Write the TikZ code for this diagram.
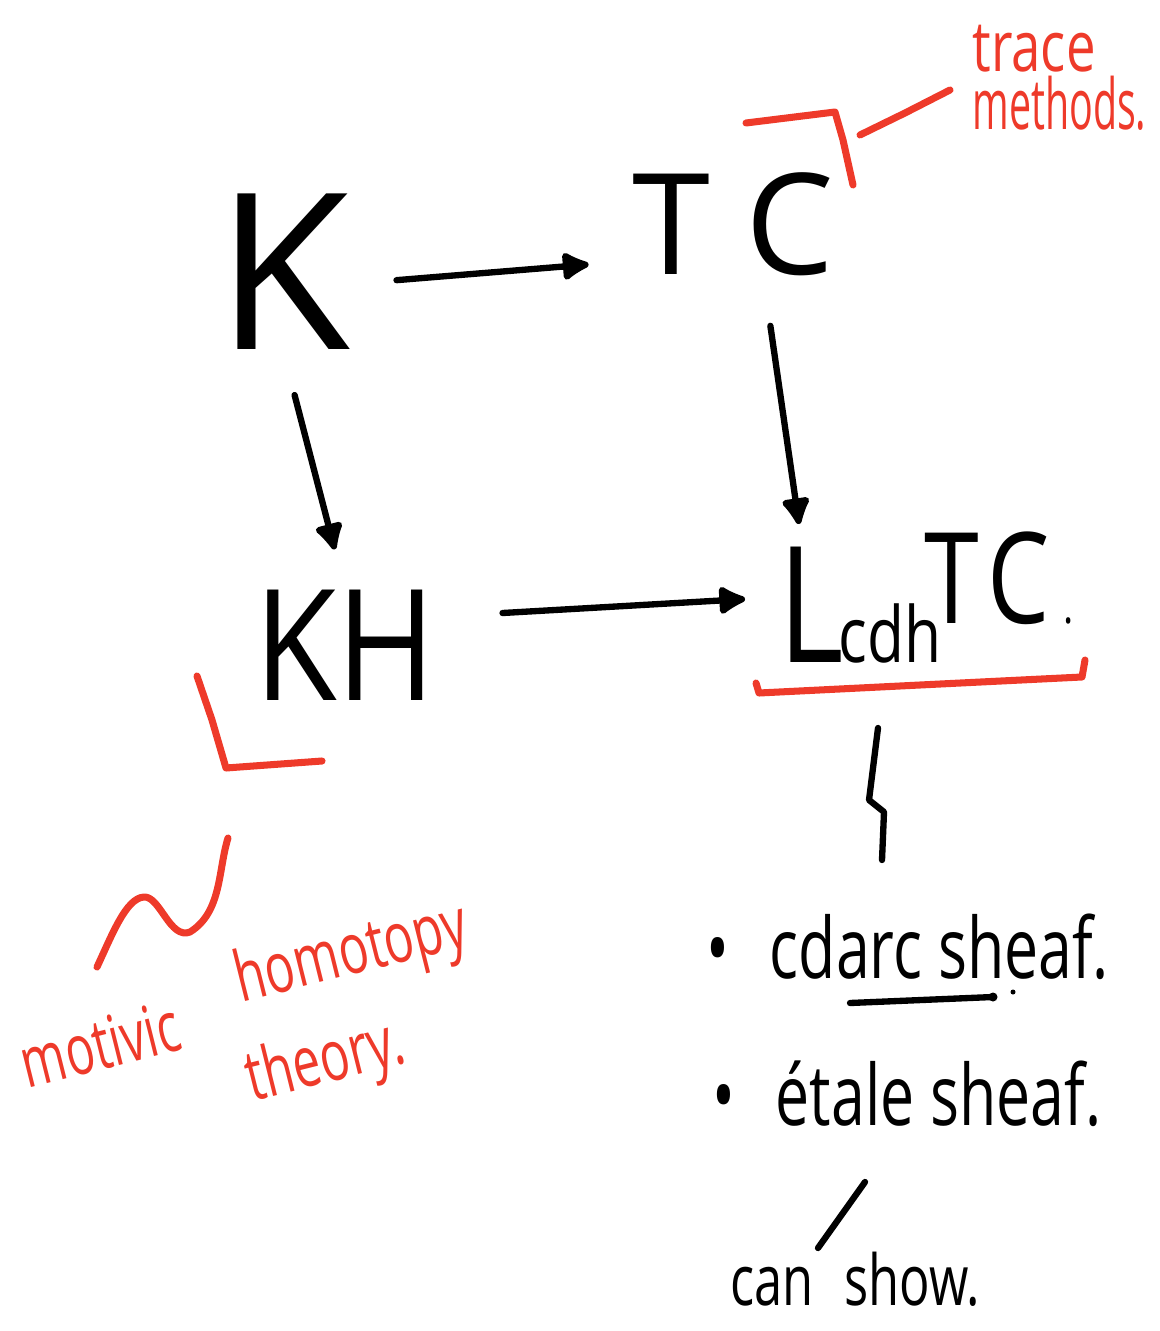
\documentclass[tikz,border=0pt]{standalone}
\usepackage{fontspec}
\setmainfont{Open Sans}
\usetikzlibrary{arrows.meta}
\definecolor{noteRed}{HTML}{EE3A2A}

\begin{document}
\begin{tikzpicture}[x=0.01cm, y=-0.01cm,
  every node/.style={inner sep=0pt},
  ink/.style={line width=1.8pt, line cap=round, line join=round},
  arr/.style={ink, -{Latex[length=0.32cm, width=0.34cm, round]}},
  redink/.style={line width=2pt, color=noteRed, line cap=round, line join=round},
  redtext/.style={text=noteRed, font=\fontsize{20}{20}\selectfont, xscale=#1},
  redtext/.default=0.75,
  itemtext/.style={font=\fontsize{24}{24}\selectfont, xscale=0.72}]
  \useasboundingbox (0,0) rectangle (1159,1331);

  % the square
  \node[font=\fontsize{62}{62}\selectfont] (K) at (283,272) {K};
  \node[font=\fontsize{40}{40}\selectfont] (TC) at (733,224) {T\hspace{10pt}C};
  \node[font=\fontsize{44}{44}\selectfont, xscale=0.87] (KH) at (345,645) {KH};
  \node[anchor=base west, font=\fontsize{46}{46}\selectfont, xscale=0.78] (LTC) at (778,662)
    {L\hspace{-2pt}{\fontsize{22}{22}\selectfont cdh}\hspace{-6pt}\raisebox{11pt}{\fontsize{36}{36}\selectfont T\hspace{3pt}C\hspace{5pt}{\fontsize{14}{14}\selectfont .}}};

  \draw[arr, shorten <=0.46cm, shorten >=0.43cm] (K.-10) -- (TC.-160);
  \draw[arr, shorten <=0.46cm, shorten >=0.41cm] (K.south) -- (KH.north);
  \draw[arr, shorten <=0.5cm, shorten >=0.07cm] (TC.-60) -- ([xshift=0.22cm]LTC.north west);
  \draw[arr, shorten <=0.66cm, shorten >=0.33cm] (KH.15) -- (LTC.west);

  % red notes
  \draw[redink] (746,123) -- (835,112) -- (843,140) -- (853,185);
  \draw[redink] (860,135) -- (905,113) -- (950,90);
  \node[redtext, anchor=base west] (trace) at (972,72) {trace};
  \node[redtext=0.56, anchor=base west] (methods) at (972,130) {methods.};

  \draw[redink] (197,676) -- (212,720) -- (226,768) -- (322,761);
  \draw[redink] (756,683) -- (759,693) -- (920,685) -- (1082,677) -- (1085,660);

  \draw[redink] (228,838) .. controls (218,870) and (222,912) .. (190,932)
    .. controls (170,940) and (160,896) .. (144,897)
    .. controls (126,898) and (112,935) .. (97,967);
  \node[rotate=14, redtext=0.68] (motivic) at (100,1044) {motivic};
  \node[rotate=14, redtext=0.7] (homotopy) at (352,956) {homotopy};
  \node[rotate=14, redtext=0.7] (theory) at (326,1064) {theory.};

  % sheaf conditions
  \draw[ink] (878,728) -- (869,800) -- (884,812) -- (882,860);
  \node[itemtext, anchor=base west] (cdarc) at (706,978) {\textbullet\hspace{16pt}cdarc sheaf.};
  \draw[ink] (850,1003) -- (993,997);
  \fill (993,997) circle[radius=0.045cm];
  \fill (1013,992) circle[radius=0.025cm];
  \node[itemtext, anchor=base west] (etale) at (712,1125) {\textbullet\hspace{16pt}étale sheaf.};
  \draw[ink] (865,1182) -- (818,1248);
  \node[itemtext, font=\fontsize{20}{20}\selectfont, anchor=base west] (canshow) at (730,1305) {can\hspace{12pt}show.};
\end{tikzpicture}
\end{document}
